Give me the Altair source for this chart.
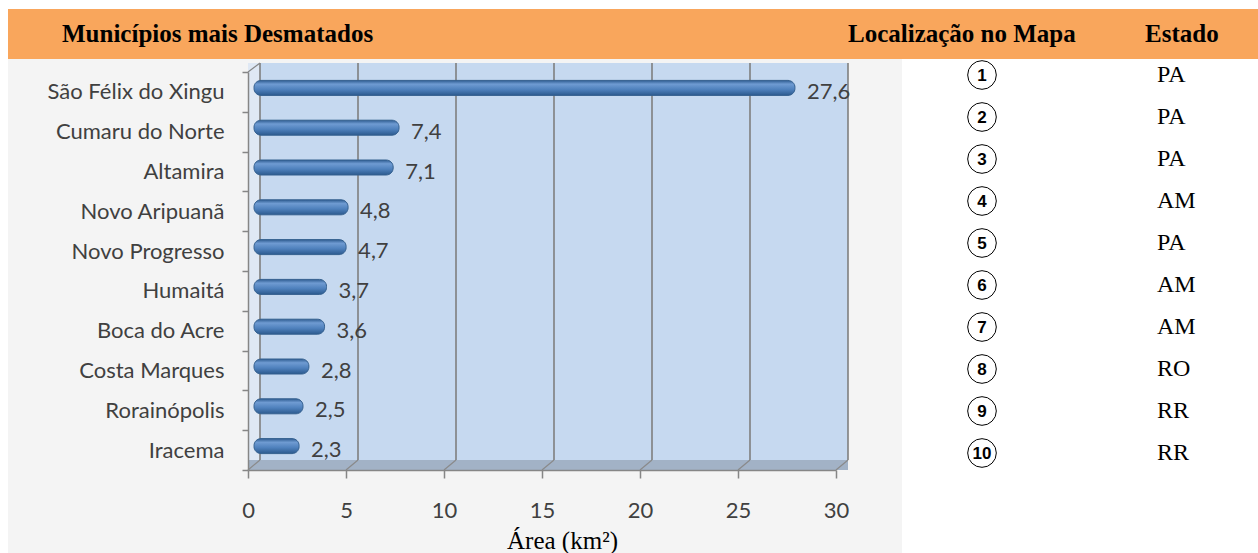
import altair as alt
import pandas as pd

# Municípios com maior área desmatada (km²) e sua localização no mapa
municipios = [
    "São Félix do Xingu", "Cumaru do Norte", "Altamira", "Novo Aripuanã",
    "Novo Progresso", "Humaitá", "Boca do Acre", "Costa Marques",
    "Rorainópolis", "Iracema",
]
area_km2 = [27.6, 7.4, 7.1, 4.8, 4.7, 3.7, 3.6, 2.8, 2.5, 2.3]
mapa_ordem = [1, 2, 3, 4, 5, 6, 7, 8, 9, 10]
estados = ["PA", "PA", "PA", "AM", "PA", "AM", "AM", "RO", "RR", "RR"]
x_ticks = [0, 5, 10, 15, 20, 25, 30]

# plot area (front face of the 3-D box) and perspective shift of the back wall
W, H = 588, 398
DX, DY = 12, 9

LABEL_FONT = "Lato"
SERIF = "Liberation Serif"
TXT = "#404040"
AXIS_GREY = "#868686"

bars_df = pd.DataFrame({
    "municipio": municipios,
    "area": area_km2,
    "rotulo": [f"{v:.1f}".replace(".", ",") for v in area_km2],
})
table_df = pd.DataFrame({"n": mapa_ordem, "estado": estados})
grid_df = pd.DataFrame({"v": x_ticks})
one = pd.DataFrame({"k": [0]})

x_scale = alt.Scale(domain=[0, 30], nice=False, zero=True)
y_scale = alt.Scale(paddingInner=0, paddingOuter=0)
row_scale = alt.Scale(domain=[1, 10], range=[3, 381])

# page furniture: grey chart box and orange header strip
page_box = alt.Chart(one).mark_rect(color="#F4F4F4").encode(
    x=alt.value(-240), x2=alt.value(654), y=alt.value(-13), y2=alt.value(H + 83)
)
header = alt.Chart(one).mark_rect(color="#F9A65C").encode(
    x=alt.value(-240), x2=alt.value(1010), y=alt.value(-63), y2=alt.value(-13)
)
head_style = dict(font=SERIF, fontSize=25, fontWeight="bold", color="black",
                  baseline="middle", align="left")
head1 = alt.Chart(one).mark_text(text="Municípios mais Desmatados", **head_style).encode(
    x=alt.value(-186), y=alt.value(-38))
head2 = alt.Chart(one).mark_text(text="Localização no Mapa", **head_style).encode(
    x=alt.value(600), y=alt.value(-38))
head3 = alt.Chart(one).mark_text(text="Estado", **head_style).encode(
    x=alt.value(897), y=alt.value(-38))

# 3-D box: back wall, side wall, floor
back_wall = alt.Chart(one).mark_rect(color="#C6D9F0", xOffset=DX, x2Offset=DX).encode(
    x=alt.datum(0), x2=alt.X2(datum=30), y=alt.value(-DY), y2=alt.value(H - 10)
)
side_wall = alt.Chart(one).mark_rect(color="#DFE8F4", x2Offset=DX).encode(
    x=alt.datum(0), x2=alt.X2(datum=0), y=alt.value(-DY), y2=alt.value(H - 10)
)
floor = alt.Chart(one).mark_rect(color="#A2B2C6", x2Offset=DX).encode(
    x=alt.datum(0), x2=alt.X2(datum=30), y=alt.value(H - 10), y2=alt.value(H)
)
wall_grid = alt.Chart(grid_df).mark_rule(color="#7F7F7F", strokeWidth=1.6, xOffset=DX).encode(
    x=alt.X("v:Q"), y=alt.value(-DY), y2=alt.value(H - 10)
)
floor_grid = alt.Chart(grid_df).mark_rule(color="#8A8A8A", strokeWidth=1.2, xOffset=DX, x2Offset=0).encode(
    x=alt.X("v:Q"), x2=alt.X2("v"), y=alt.value(H - 10), y2=alt.value(H)
)
top_edge = alt.Chart(one).mark_rule(color=AXIS_GREY, strokeWidth=1.2, x2Offset=DX).encode(
    x=alt.datum(0), x2=alt.X2(datum=0), y=alt.value(0), y2=alt.value(-DY)
)

bar_fill = alt.Gradient(
    gradient="linear",
    stops=[
        alt.GradientStop(color="#2E5C91", offset=0),
        alt.GradientStop(color="#6F9BD2", offset=0.25),
        alt.GradientStop(color="#4F81BD", offset=0.6),
        alt.GradientStop(color="#2C5A8E", offset=1),
    ],
    x1=0, x2=0, y1=0, y2=1,
)

# bars sit halfway into the box depth, so both ends are shifted right
bars = alt.Chart(bars_df).mark_bar(
    size=15, yOffset=-4, xOffset=6, x2Offset=6, cornerRadius=3, cornerRadiusEnd=7,
    fill=bar_fill, stroke="#34608F", strokeWidth=1,
).encode(
    x=alt.X("area:Q", scale=x_scale, stack=None, axis=alt.Axis(
        values=x_ticks, grid=False, title="Área (km²)", titleFont=SERIF, titleFontSize=25,
        titleFontWeight="normal", titleColor="black", titleX=314, titleY=78,
        titleBaseline="alphabetic", tickSize=8, labelPadding=22, labelFont=LABEL_FONT,
        labelFontSize=22, labelColor=TXT, domainColor=AXIS_GREY, tickColor=AXIS_GREY,
        domainWidth=1.5, tickWidth=1.5, labelFlush=False, zindex=1,
    )),
    x2=alt.X2(datum=0),
    y=alt.Y("municipio:N", sort=municipios, scale=y_scale, axis=alt.Axis(
        title=None, tickBand="extent", tickSize=6, labelPadding=18, labelFont=LABEL_FONT,
        labelFontSize=22, labelColor=TXT, domainColor=AXIS_GREY, tickColor=AXIS_GREY,
        domainWidth=1.5, tickWidth=1.5, labelLimit=0, zindex=1,
    )),
)

values = alt.Chart(bars_df).mark_text(
    align="left", baseline="middle", dx=18, font=LABEL_FONT, fontSize=22, color=TXT
).encode(
    x=alt.X("area:Q", scale=x_scale),
    y=alt.Y("municipio:N", sort=municipios, scale=y_scale),
    text="rotulo:N",
)

plot = alt.layer(
    page_box, header, head1, head2, head3,
    back_wall, side_wall, floor, wall_grid, floor_grid, top_edge,
    bars, values,
)

# location / state table on the right
ring = alt.Chart(table_df).mark_point(
    shape="circle", size=820, filled=True, fill="white", stroke="black",
    strokeWidth=1, opacity=1,
).encode(x=alt.value(734), y=alt.Y("n:Q", scale=row_scale, axis=None))

ring_num = alt.Chart(table_df).mark_text(
    font="Liberation Sans", fontWeight="bold", fontSize=17, baseline="middle",
    align="center", dy=1, color="black",
).encode(x=alt.value(734), y=alt.Y("n:Q", scale=row_scale, axis=None), text="n:N")

state = alt.Chart(table_df).mark_text(
    font=SERIF, fontSize=24, baseline="middle", align="left", color="black",
).encode(x=alt.value(909), y=alt.Y("n:Q", scale=row_scale, axis=None), text="estado:N")

table = alt.layer(ring, ring_num, state)

chart = alt.layer(plot, table).resolve_scale(y="independent").properties(
    width=W, height=H,
    padding={"left": 248, "top": 72, "right": 422, "bottom": 83},
    autosize=alt.AutoSizeParams(type="none"),
    background="white",
).configure_view(stroke=None)

chart.save("out.html", embed_options={"renderer": "svg", "actions": False})
